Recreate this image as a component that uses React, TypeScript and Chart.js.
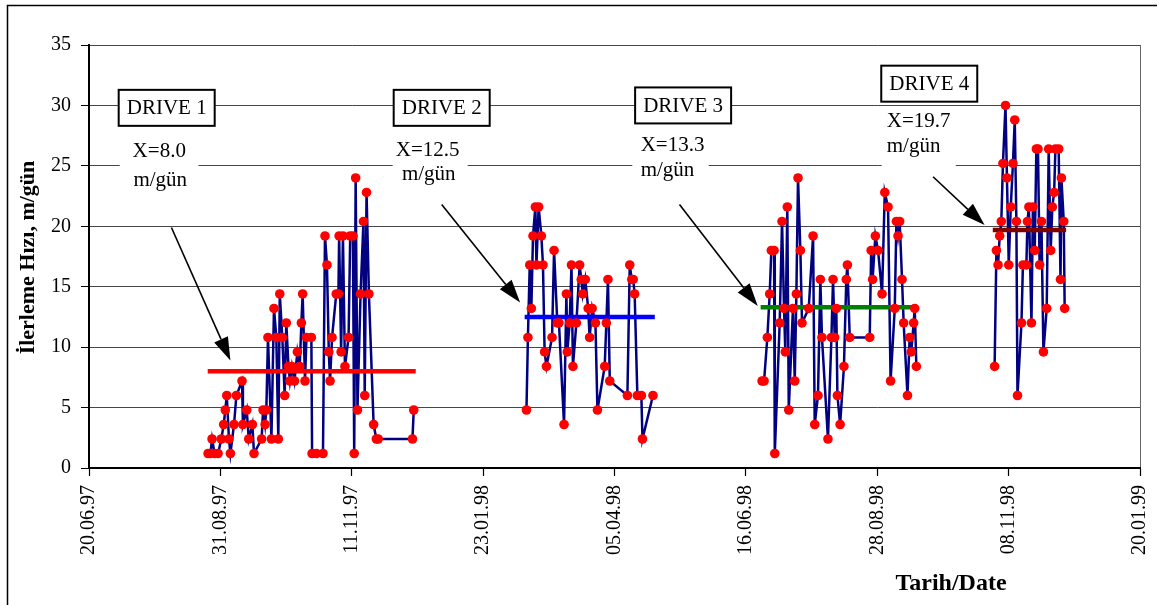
import { useEffect, useRef } from "react";
import { Chart, registerables } from "chart.js";

Chart.register(...registerables);

// ---- axis definition (days counted from 20.06.97) ----
const AXIS_BASE_UTC = Date.UTC(1997, 5, 20);
const AXIS_DAYS = 579;
const X_TICK_STEP = 72.375;
const Y_MAX = 35;
const Y_STEP = 5;

// ---- data: day offset from 20.06.97 and advance rate (m/gün) ----
const drive1Days = [65.6, 66.9, 67.8, 69.2, 71.1, 72.9, 74.2, 75.1, 75.9, 77.1, 77.9, 79.9, 81.2, 84.3, 84.8, 86.9, 88.0, 90.0, 90.9, 95.1, 95.9, 97.0, 97.7, 98.6, 100.5, 101.9, 103.2, 104.3, 105.1, 106.5, 107.8, 108.7, 109.9, 110.7, 111.8, 113.2, 114.8, 116.1, 117.0, 117.7, 119.0, 119.8, 122.5, 122.9, 125.3, 128.9, 130.0, 131.1, 132.1, 132.8, 133.9, 136.2, 137.4, 137.8, 138.9, 139.9, 141.0, 143.0, 143.9, 145.4, 146.1, 146.9, 147.9, 149.6, 151.2, 151.9, 152.9, 154.2, 156.8, 158.3, 159.3, 178.2, 178.9];
const drive1Speed = [1.2, 1.2, 2.4, 1.2, 1.2, 2.4, 3.6, 4.8, 6.0, 2.4, 1.2, 3.6, 6.0, 7.2, 3.6, 4.8, 2.4, 3.6, 1.2, 2.4, 4.8, 3.6, 4.8, 10.8, 2.4, 13.2, 10.8, 2.4, 14.4, 10.8, 6.0, 12.0, 8.4, 7.2, 8.4, 7.2, 9.6, 8.4, 12.0, 14.4, 7.2, 10.8, 10.8, 1.2, 1.2, 1.2, 19.2, 16.8, 9.6, 7.2, 10.8, 14.4, 14.4, 19.2, 9.6, 19.2, 8.4, 10.8, 19.2, 19.2, 1.2, 24.0, 4.8, 14.4, 20.4, 6.0, 22.8, 14.4, 3.6, 2.4, 2.4, 2.4, 4.8];

const drive2Days = [241.0, 241.8, 242.8, 243.7, 244.6, 245.9, 246.5, 247.7, 249.2, 250.1, 251.0, 252.0, 255.1, 256.2, 258.0, 258.9, 261.7, 263.0, 263.5, 264.8, 265.8, 266.6, 268.5, 270.3, 271.2, 272.0, 273.4, 275.0, 275.8, 277.2, 279.0, 280.1, 284.1, 285.0, 285.9, 286.9, 296.6, 297.9, 299.0, 299.8, 300.6, 302.1, 304.3, 304.9, 310.7];
const drive2Speed = [4.8, 10.8, 16.8, 13.2, 19.2, 21.6, 16.8, 21.6, 19.2, 16.8, 9.6, 8.4, 10.8, 18.0, 12.0, 12.0, 3.6, 14.4, 9.6, 12.0, 16.8, 8.4, 12.0, 16.8, 15.6, 14.4, 15.6, 13.2, 10.8, 13.2, 12.0, 4.8, 8.4, 12.0, 15.6, 7.2, 6.0, 16.8, 15.6, 15.6, 14.4, 6.0, 6.0, 2.4, 6.0];

const drive3Days = [370.8, 371.9, 373.7, 375.0, 375.9, 377.4, 377.8, 380.5, 381.8, 382.9, 383.6, 384.7, 385.5, 387.8, 388.8, 389.7, 390.6, 391.9, 392.8, 396.5, 398.9, 399.8, 401.6, 402.9, 403.8, 407.1, 409.0, 409.9, 410.8, 411.7, 412.3, 413.8, 415.9, 417.2, 417.8, 419.1, 430.1, 430.9, 431.7, 433.2, 434.7, 436.9, 438.4, 440.2, 441.6, 443.9, 444.8, 445.7, 446.6, 447.9, 448.8, 450.9, 452.1, 453.0, 454.3, 454.9, 455.8];
const drive3Speed = [7.2, 7.2, 10.8, 14.4, 18.0, 18.0, 1.2, 12.0, 20.4, 13.2, 9.6, 21.6, 4.8, 13.2, 7.2, 14.4, 24.0, 18.0, 12.0, 13.2, 19.2, 3.6, 6.0, 15.6, 10.8, 2.4, 10.8, 15.6, 10.8, 13.2, 6.0, 3.6, 8.4, 15.6, 16.8, 10.8, 10.8, 18.0, 15.6, 19.2, 18.0, 14.4, 22.8, 21.6, 7.2, 13.2, 20.4, 19.2, 20.4, 15.6, 12.0, 6.0, 10.8, 9.6, 12.0, 13.2, 8.4];

const drive4Days = [498.9, 499.9, 500.8, 501.7, 502.6, 503.5, 504.9, 505.7, 506.7, 507.8, 509.0, 510.0, 510.9, 511.5, 513.7, 514.5, 516.4, 517.0, 517.8, 519.2, 520.0, 521.0, 521.9, 522.8, 523.7, 524.7, 525.8, 527.6, 528.7, 529.8, 530.7, 531.7, 532.4, 534.2, 535.2, 535.7, 537.0, 537.5];
const drive4Speed = [8.4, 18.0, 16.8, 19.2, 20.4, 25.2, 30.0, 24.0, 16.8, 21.6, 25.2, 28.8, 20.4, 6.0, 12.0, 16.8, 16.8, 20.4, 21.6, 12.0, 21.6, 18.0, 26.4, 26.4, 16.8, 20.4, 9.6, 13.2, 26.4, 18.0, 21.6, 22.8, 26.4, 26.4, 15.6, 24.0, 20.4, 13.2];

// ---- mean rate per drive ----
const driveNames = ["DRIVE 1", "DRIVE 2", "DRIVE 3", "DRIVE 4"];
const driveMeans = [8.0, 12.5, 13.3, 19.7];
const driveMeanStart = [65.4, 240.0, 370.0, 497.9];
const driveMeanEnd = [180.0, 311.7, 454.9, 538.3];
const meanTexts = ["X=8.0", "X=12.5", "X=13.3", "X=19.7"];
const unitText = "m/gün";
const meanColors = ["#ff0000", "#0000ff", "#008000", "#800000"];

// ---- annotation anchors in data units (day, m/gün) ----
const nameBoxDay = [42.8, 194.3, 327.3, 462.9];
const nameBoxVal = [29.8, 29.8, 30.0, 31.8];
const noteDay = [38.7, 186.6, 303.9, 439.5];
const noteAlign = ["center", "center", "left", "left"];
const noteVal1 = [26.2, 26.3, 26.7, 28.7];
const noteVal2 = [23.8, 24.3, 24.6, 26.6];
const noteBoxFrom = [16.9, 167.3, 299.3, 436.7];
const noteBoxTo = [60.3, 208.6, 341.4, 477.5];
const arrowFromDay = [45.4, 194.3, 325.3, 465.0];
const arrowFromVal = [19.9, 21.8, 21.8, 24.1];
const arrowToDay = [77.9, 237.5, 368.4, 493.4];
const arrowToVal = [8.9, 13.7, 13.4, 20.1];

const driveDays = [drive1Days, drive2Days, drive3Days, drive4Days];
const driveSpeed = [drive1Speed, drive2Speed, drive3Speed, drive4Speed];

const SERIF = '"Liberation Serif", "Times New Roman", serif';

function dayLabel(v: number): string {
  const d = new Date(AXIS_BASE_UTC + Math.floor(v + 1e-6) * 86400000);
  const p = (n: number) => String(n).padStart(2, "0");
  return `${p(d.getUTCDate())}.${p(d.getUTCMonth() + 1)}.${p(d.getUTCFullYear() % 100)}`;
}

function drawArrow(ctx: CanvasRenderingContext2D, x1: number, y1: number, x2: number, y2: number) {
  const ang = Math.atan2(y2 - y1, x2 - x1);
  const hl = 23;
  const hw = 7.5;
  const bx = x2 - hl * Math.cos(ang);
  const by = y2 - hl * Math.sin(ang);
  ctx.beginPath();
  ctx.moveTo(x1, y1);
  ctx.lineTo(bx, by);
  ctx.stroke();
  ctx.beginPath();
  ctx.moveTo(x2, y2);
  ctx.lineTo(bx + hw * Math.sin(ang), by - hw * Math.cos(ang));
  ctx.lineTo(bx - hw * Math.sin(ang), by + hw * Math.cos(ang));
  ctx.closePath();
  ctx.fill();
}

const notesPlugin = {
  id: "driveNotes",
  afterDraw(chart: any) {
    const ctx: CanvasRenderingContext2D = chart.ctx;
    const xs = chart.scales.x;
    const ys = chart.scales.y;
    const X = (d: number) => xs.getPixelForValue(d);
    const Y = (v: number) => ys.getPixelForValue(v);
    const ca = chart.chartArea;
    ctx.save();

    // outer frame
    ctx.strokeStyle = "#000";
    ctx.lineWidth = 1.5;
    ctx.beginPath();
    ctx.moveTo(7.5, 610);
    ctx.lineTo(7.5, 5.5);
    ctx.lineTo(1157, 5.5);
    ctx.stroke();

    // right edge of plot area
    ctx.strokeStyle = "rgba(0,0,0,0.6)";
    ctx.lineWidth = 1;
    ctx.beginPath();
    ctx.moveTo(Math.round(ca.right) + 0.5, ca.top);
    ctx.lineTo(Math.round(ca.right) + 0.5, ca.bottom);
    ctx.stroke();

    // axis titles
    ctx.fillStyle = "#000";
    ctx.textAlign = "center";
    ctx.textBaseline = "middle";
    ctx.font = `bold 22px ${SERIF}`;
    ctx.save();
    ctx.translate(ca.left - 61, (ca.top + ca.bottom) / 2 + 1);
    ctx.rotate(-Math.PI / 2);
    ctx.fillText("İlerleme Hızı, m/gün", 0, 0);
    ctx.restore();
    ctx.font = `bold 24px ${SERIF}`;
    ctx.fillText("Tarih/Date", 951, 584);

    for (let i = 0; i < driveNames.length; i++) {
      // white note box for mean value text
      const l1 = Y(noteVal1[i]);
      const l2 = Y(noteVal2[i]);
      const bl = X(noteBoxFrom[i]);
      const br = X(noteBoxTo[i]);
      ctx.fillStyle = "#fff";
      ctx.fillRect(bl, l1 - 13, br - bl, l2 + 22 - (l1 - 13));

      ctx.fillStyle = "#000";
      ctx.font = `21px ${SERIF}`;
      ctx.textAlign = noteAlign[i] as CanvasTextAlign;
      ctx.textBaseline = "middle";
      ctx.fillText(meanTexts[i], X(noteDay[i]), l1);
      ctx.fillText(unitText, X(noteDay[i]) + (noteAlign[i] === "center" ? 1 : 0), l2);

      // drive name box
      const cx = X(nameBoxDay[i]);
      const cy = Y(nameBoxVal[i]);
      const w = 96;
      const h = 36;
      ctx.fillStyle = "#fff";
      ctx.fillRect(cx - w / 2, cy - h / 2, w, h);
      ctx.strokeStyle = "#000";
      ctx.lineWidth = 2;
      ctx.strokeRect(cx - w / 2, cy - h / 2, w, h);
      ctx.fillStyle = "#000";
      ctx.textAlign = "center";
      ctx.font = `21px ${SERIF}`;
      ctx.fillText(driveNames[i], cx, cy + 1);

      // arrow
      ctx.strokeStyle = "#000";
      ctx.fillStyle = "#000";
      ctx.lineWidth = 1.6;
      drawArrow(ctx, X(arrowFromDay[i]), Y(arrowFromVal[i]), X(arrowToDay[i]), Y(arrowToVal[i]));
    }
    ctx.restore();
  },
};

export default function App() {
  const canvasRef = useRef<HTMLCanvasElement | null>(null);

  useEffect(() => {
    if (!canvasRef.current) return;
    const datasets: any[] = [];
    for (let i = 0; i < driveDays.length; i++) {
      const pts = driveDays[i].map((d, j) => ({ x: d, y: driveSpeed[i][j] }));
      datasets.push({
        label: driveNames[i] + " points",
        data: pts,
        showLine: false,
        pointRadius: 4.8,
        pointBackgroundColor: "#ff0000",
        pointBorderColor: "#ff0000",
        pointBorderWidth: 0,
        order: 0,
      });
      datasets.push({
        label: driveNames[i] + " mean",
        data: [
          { x: driveMeanStart[i], y: driveMeans[i] },
          { x: driveMeanEnd[i], y: driveMeans[i] },
        ],
        borderColor: meanColors[i],
        borderWidth: 4.5,
        pointRadius: 0,
        order: 1,
      });
      datasets.push({
        label: driveNames[i],
        data: pts,
        borderColor: "#000080",
        borderWidth: 2.5,
        pointRadius: 0,
        tension: 0,
        order: 2,
      });
    }

    const chart = new Chart(canvasRef.current, {
      type: "line",
      data: { datasets },
      options: {
        animation: false,
        responsive: false,
        events: [],
        layout: { padding: { left: 0, top: 45, right: 23, bottom: 0 } },
        plugins: { legend: { display: false }, tooltip: { enabled: false } },
        scales: {
          x: {
            type: "linear",
            min: 0,
            max: AXIS_DAYS,
            afterBuildTicks: (scale: any) => {
              const t: any[] = [];
              for (let k = 0; k * X_TICK_STEP <= AXIS_DAYS + 1e-6; k++) t.push({ value: k * X_TICK_STEP });
              scale.ticks = t;
            },
            afterFit: (scale: any) => {
              scale.height = 137;
              scale.paddingLeft = 0;
              scale.paddingRight = 0;
            },
            ticks: {
              autoSkip: false,
              minRotation: 90,
              maxRotation: 90,
              padding: 9,
              color: "#000",
              font: { family: SERIF, size: 20 },
              callback: (v: any) => dayLabel(Number(v)),
            },
            grid: {
              drawOnChartArea: false,
              drawTicks: true,
              tickLength: 8,
              tickColor: "#000",
              tickWidth: 1.2,
            },
            border: { display: true, color: "#000", width: 2 },
          },
          y: {
            type: "linear",
            min: 0,
            max: Y_MAX,
            afterFit: (scale: any) => {
              scale.width = 89;
              scale.paddingTop = 0;
              scale.paddingBottom = 0;
            },
            ticks: {
              stepSize: Y_STEP,
              padding: 10,
              color: "#000",
              font: { family: SERIF, size: 20 },
            },
            grid: {
              color: "rgba(0,0,0,0.72)",
              lineWidth: 1,
              tickLength: 8,
              tickColor: "#000",
            },
            border: { display: true, color: "#000", width: 2 },
          },
        },
      },
      plugins: [notesPlugin],
    });
    return () => chart.destroy();
  }, []);

  return (
    <div style={{ position: "absolute", left: 0, top: 0, width: 1163, height: 605, background: "#fff" }}>
      <canvas ref={canvasRef} width={1163} height={605} style={{ display: "block" }} />
    </div>
  );
}
